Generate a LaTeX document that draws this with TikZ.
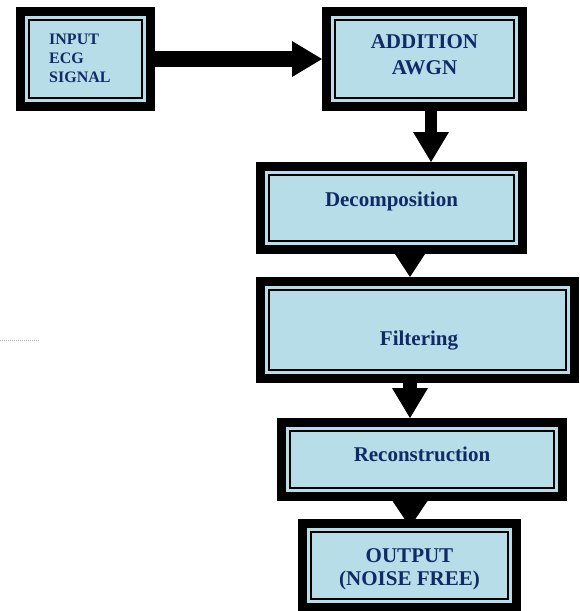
\documentclass[tikz,border=0pt]{standalone}
\usepackage{fontspec}
\setmainfont{Liberation Serif}
\usetikzlibrary{arrows.meta}
\definecolor{lblue}{HTML}{B7DDE8}
\definecolor{navy}{HTML}{102A66}
\tikzset{
  frame/.style={shape=rectangle, draw=black, line width=2pt, fill=lblue,
    outer sep=13pt, inner sep=0pt,
    preaction={draw=black, line width=26pt},
    preaction={draw=lblue, line width=8pt}},
  lbl/.style={text=navy, inner sep=0pt, font=\fontsize{21}{26}\selectfont\bfseries},
  flow/.style={draw=black, line width=#1},
  tipA/.style={-{Triangle[length=30pt,width=36pt,line width=0pt]}},
  tipB/.style={-{Triangle[length=23pt,width=30pt,line width=0pt]}},
  tipC/.style={-{Triangle[length=26pt,width=35pt,line width=0pt]}},
  dotline/.style={draw=black!30, line width=0.7pt, dash pattern=on 1pt off 1pt}
}
\begin{document}
\begin{tikzpicture}[x=1pt,y=-1pt]
\useasboundingbox (0,0) rectangle (579,611);
% boxes
\node[frame, minimum width=113pt, minimum height=78pt] (in) at (85.5,59) {};
\node[frame, minimum width=179pt, minimum height=78pt] (add) at (424.5,59) {};
\node[frame, minimum width=245pt, minimum height=66pt] (dec) at (391.5,208) {};
\node[frame, minimum width=297pt, minimum height=80pt] (filt) at (417.5,330) {};
\node[frame, minimum width=264pt, minimum height=57pt] (rec) at (422,459.5) {};
\node[frame, minimum width=197pt, minimum height=67pt] (out) at (409.5,565.5) {};
% texts
\node[lbl, font=\fontsize{16}{19.2}\selectfont\bfseries, anchor=base west] (tin) at (49,44)
  {\begin{tabular}[t]{@{}l@{}}INPUT\\ECG\\SIGNAL\end{tabular}};
\node[lbl, anchor=base] (tadd) at (424.5,48)
  {\begin{tabular}[t]{@{}c@{}}ADDITION\\AWGN\end{tabular}};
\node[lbl, anchor=base] (tdec) at (391.5,206) {Decomposition};
\node[lbl, anchor=base] (tfilt) at (419,345) {Filtering};
\node[lbl, anchor=base] (trec) at (422,461) {Reconstruction};
\node[lbl, font=\fontsize{21}{23.3}\selectfont\bfseries, anchor=base] (tout) at (409.5,562)
  {\begin{tabular}[t]{@{}c@{}}OUTPUT\\(NOISE FREE)\end{tabular}};
% connectors
\coordinate (colA) at (431,0);
\coordinate (colB) at (410,0);
\draw[flow=16pt, tipA] (in.east) -- (add.west);
\draw[flow=12pt, tipA] (add.south -| colA) -- (dec.north -| colA);
\draw[flow=12pt, tipB] (dec.south -| colB) -- (filt.north -| colB);
\draw[flow=14pt, tipA] (filt.south -| colB) -- (rec.north -| colB);
\draw[flow=12pt, tipC, shorten >=-8pt] (rec.south -| colB) -- (out.north -| colB);
% faint dotted rule at left
\coordinate (d1) at (0,340);
\coordinate (d2) at (40,340);
\draw[dotline] (d1) -- (d2);
\end{tikzpicture}
\end{document}
